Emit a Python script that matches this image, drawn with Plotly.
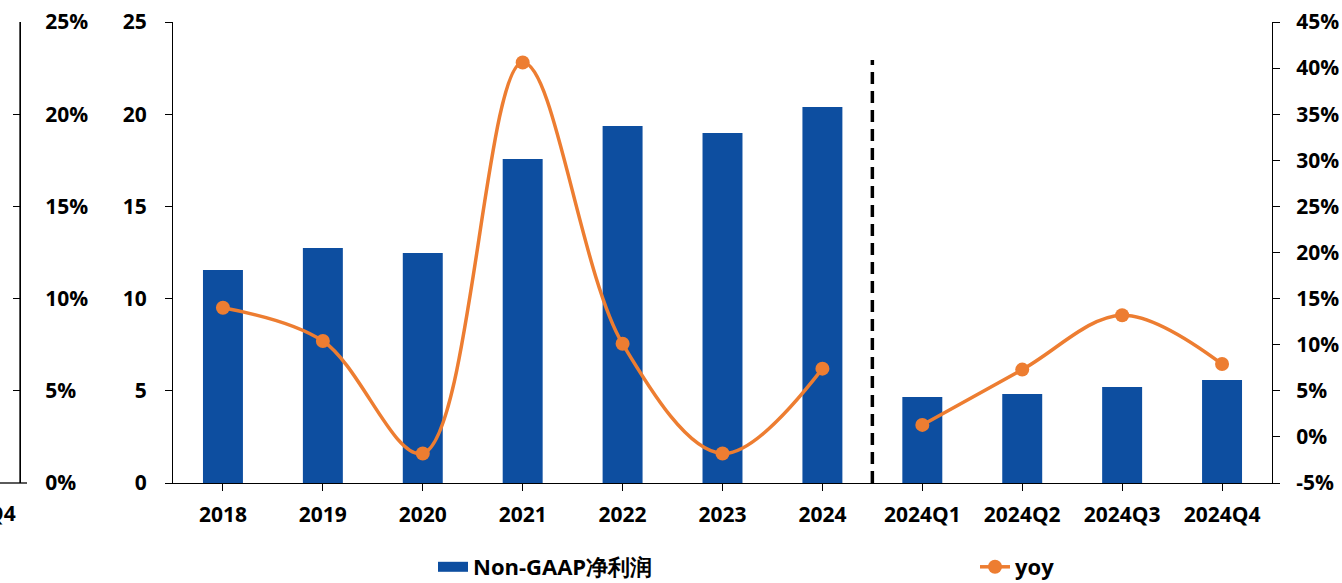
import plotly.graph_objects as go

categories = ["2018", "2019", "2020", "2021", "2022", "2023", "2024",
              "2024Q1", "2024Q2", "2024Q3", "2024Q4"]
profit = [11.55, 12.74, 12.47, 17.57, 19.36, 18.98, 20.39, 4.66, 4.83, 5.21, 5.59]
yoy = [14.0, 10.4, -1.8, 40.6, 10.1, -1.8, 7.4, 1.3, 7.3, 13.2, 7.9]
yoy_tickvals = [-5, 0, 5, 10, 15, 20, 25, 30, 35, 40, 45]
yoy_ticktext = ["-5%", "0%", "5%", "10%", "15%", "20%", "25%", "30%", "35%", "40%", "45%"]

W, H = 1342, 583
L, R, T, B = 173, 1272, 22, 483
BLUE = "#0D4EA0"
ORANGE = "#ED7D31"
FONT = "Open Sans"
FS = 21
tf = dict(family=FONT, size=FS, color="black", weight="bold")
lf = dict(family=FONT, size=22, color="black", weight="bold")

fig = go.Figure()
fig.add_trace(go.Bar(x=categories, y=profit, name="Non-GAAP净利润",
                     marker=dict(color=BLUE, line=dict(width=0)), width=0.4,
                     yaxis="y", showlegend=False))
# legend entry for bars (wide rectangle symbol)
fig.add_trace(go.Scatter(x=[None], y=[None], name="Non-GAAP净利润", mode="lines",
                         line=dict(color=BLUE, width=12), legend="legend"))
fig.add_trace(go.Scatter(x=categories[:7], y=yoy[:7], name="yoy", yaxis="y2",
                         mode="lines+markers", legendgroup="yoy", legend="legend2",
                         line=dict(color=ORANGE, width=3.5, shape="spline", smoothing=1.0),
                         marker=dict(color=ORANGE, size=14)))
fig.add_trace(go.Scatter(x=categories[7:], y=yoy[7:], name="yoy", yaxis="y2",
                         mode="lines+markers", legendgroup="yoy", showlegend=False,
                         line=dict(color=ORANGE, width=3.5, shape="spline", smoothing=1.0),
                         marker=dict(color=ORANGE, size=14)))
# invisible trace to activate the stray left axis
fig.add_trace(go.Scatter(x=[categories[0]], y=[0], yaxis="y3", mode="markers",
                         marker=dict(opacity=0), showlegend=False, hoverinfo="skip"))

axis_common = dict(showgrid=False, zeroline=False, showline=True, linecolor="black",
                   linewidth=1.3, tickcolor="black", ticklen=7, tickwidth=1.3, tickfont=tf)

legend_common = dict(orientation="h", y=(B - 567) / (B - T), yanchor="middle",
                     xanchor="left", font=lf, bgcolor="rgba(0,0,0,0)")

fig.update_layout(
    width=W, height=H,
    margin=dict(l=0, r=0, t=T, b=H - B, autoexpand=False),
    paper_bgcolor="white", plot_bgcolor="white",
    font=dict(family=FONT, color="black"),
    xaxis=dict(domain=[L / W, R / W], type="category", ticks="outside",
               range=[-0.5, 10.5], ticklabelstandoff=6, **axis_common),
    yaxis=dict(range=[0, 25], dtick=5, ticks="outside", ticklabelstandoff=14, **axis_common),
    yaxis2=dict(range=[-5, 45], tickvals=yoy_tickvals, ticktext=yoy_ticktext,
                overlaying="y", side="right",
                anchor="x", ticks="outside", ticklabelstandoff=12, **axis_common),
    yaxis3=dict(range=[0, 25], dtick=5, ticksuffix="%", overlaying="y", side="right",
                anchor="free", position=20 / W, ticks="inside", ticklabelstandoff=20,
                **axis_common),
    legend=dict(x=433 / W, **legend_common),
    legend2=dict(x=975 / W, **legend_common),
    showlegend=True,
)

# dashed divider between annual and quarterly data
fig.add_shape(type="line", xref="x", yref="paper", x0=6.5, x1=6.5, y0=0,
              y1=(B - 60) / (B - T),
              line=dict(color="black", width=3.5, dash="12px,7px"))
# stray axis fragment on the far left
fig.add_shape(type="line", xref="paper", yref="paper", x0=20 / W, x1=20 / W,
              y0=0, y1=1, line=dict(color="black", width=1.3))
fig.add_shape(type="line", xref="paper", yref="paper", x0=0, x1=27 / W,
              y0=0, y1=0, line=dict(color="black", width=1.3))
fig.add_annotation(text="2024Q4", xref="paper", yref="paper", x=18 / W, y=0,
                   xanchor="right", yanchor="top", yshift=-14, showarrow=False,
                   font=tf)

fig.write_html("out.html")
